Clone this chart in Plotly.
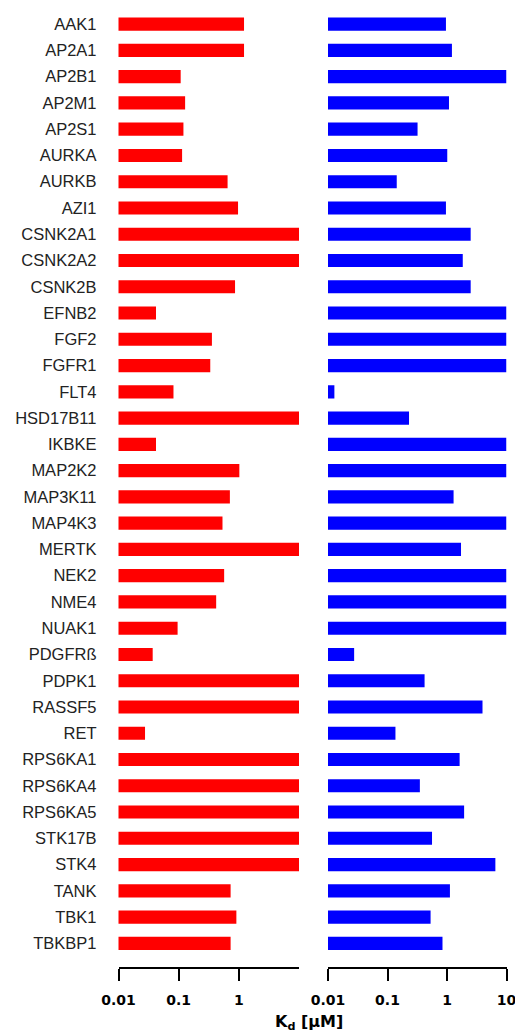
import plotly.graph_objects as go

genes = ["AAK1", "AP2A1", "AP2B1", "AP2M1", "AP2S1", "AURKA", "AURKB", "AZI1",
         "CSNK2A1", "CSNK2A2", "CSNK2B", "EFNB2", "FGF2", "FGFR1", "FLT4", "HSD17B11",
         "IKBKE", "MAP2K2", "MAP3K11", "MAP4K3", "MERTK", "NEK2", "NME4", "NUAK1",
         "PDGFRß", "PDPK1", "RASSF5", "RET", "RPS6KA1", "RPS6KA4", "RPS6KA5", "STK17B",
         "STK4", "TANK", "TBK1", "TBKBP1"]

kd_red = [1.22, 1.22, 0.108, 0.128, 0.12, 0.114, 0.65, 0.97,
          10, 10, 0.865, 0.042, 0.357, 0.335, 0.082, 10,
          0.042, 1.02, 0.71, 0.535, 10, 0.57, 0.42, 0.096,
          0.037, 10, 10, 0.0276, 10, 10, 10, 10,
          10, 0.73, 0.91, 0.73]

kd_blue = [0.96, 1.21, 10, 1.08, 0.32, 1.01, 0.143, 0.96,
           2.5, 1.84, 2.5, 10, 10, 10, 0.0128, 0.23,
           10, 10, 1.29, 10, 1.72, 10, 10, 10,
           0.0275, 0.42, 3.95, 0.136, 1.63, 0.35, 1.94, 0.56,
           6.5, 1.12, 0.53, 0.84]

tick_vals_left = [0.01, 0.1, 1]
tick_vals_right = [0.01, 0.1, 1, 10]
tick_end_left = [10]

W, H = 515, 1032
top_px, bottom_px = 11.2, 967.0
dom_left = [118.5 / W, 299 / W]
dom_right = [328 / W, 506.5 / W]

fig = go.Figure()
fig.add_trace(go.Bar(y=genes, x=kd_red, orientation="h", marker=dict(color="#ff0000", line=dict(width=0)),
                     width=0.5, xaxis="x", yaxis="y", showlegend=False))
fig.add_trace(go.Bar(y=genes, x=kd_blue, orientation="h", marker=dict(color="#0000ff", line=dict(width=0)),
                     width=0.5, xaxis="x2", yaxis="y", showlegend=False))

xcommon = dict(type="log", range=[-2, 1], showline=True, linecolor="black", linewidth=2,
               ticks="outside", ticklen=12, tickwidth=2, tickcolor="black",
               showgrid=False, zeroline=False, automargin=False)
xfont = dict(family="DejaVu Sans", size=14, color="black", weight="bold")

fig.update_layout(
    width=W, height=H,
    margin=dict(l=0, r=0, t=top_px, b=H - bottom_px, pad=0, autoexpand=False),
    plot_bgcolor="white", paper_bgcolor="white",
    xaxis=dict(domain=dom_left, tickvals=tick_vals_left, anchor="y", tickfont=xfont,
               ticklabelstandoff=7, ticklabeloverflow="allow", **xcommon),
    xaxis2=dict(domain=dom_right, tickvals=tick_vals_right, anchor="y", tickfont=xfont,
                ticklabelstandoff=7, ticklabeloverflow="allow", **xcommon),
    xaxis3=dict(domain=dom_left, tickvals=tick_end_left, overlaying="x", side="bottom", anchor="y",
                showticklabels=False, **xcommon),
    yaxis=dict(type="category", range=[35.9, -0.5], showline=False, showgrid=False, zeroline=False,
               ticks="", ticklabelstandoff=21, automargin=False,
               tickfont=dict(family="Liberation Sans, Arial", size=16.5, color="#222222")),
    annotations=[dict(text="<b>K<sub>d</sub> [µM]</b>", x=309 / W, y=-0.058,
                      xref="paper", yref="paper",
                      xanchor="center", yanchor="middle", showarrow=False,
                      font=dict(family="DejaVu Sans", size=16, color="black"))],
)

fig.write_html("out.html", config={"displayModeBar": False},
               post_script="document.body.style.margin='0';document.body.style.overflow='hidden';")
